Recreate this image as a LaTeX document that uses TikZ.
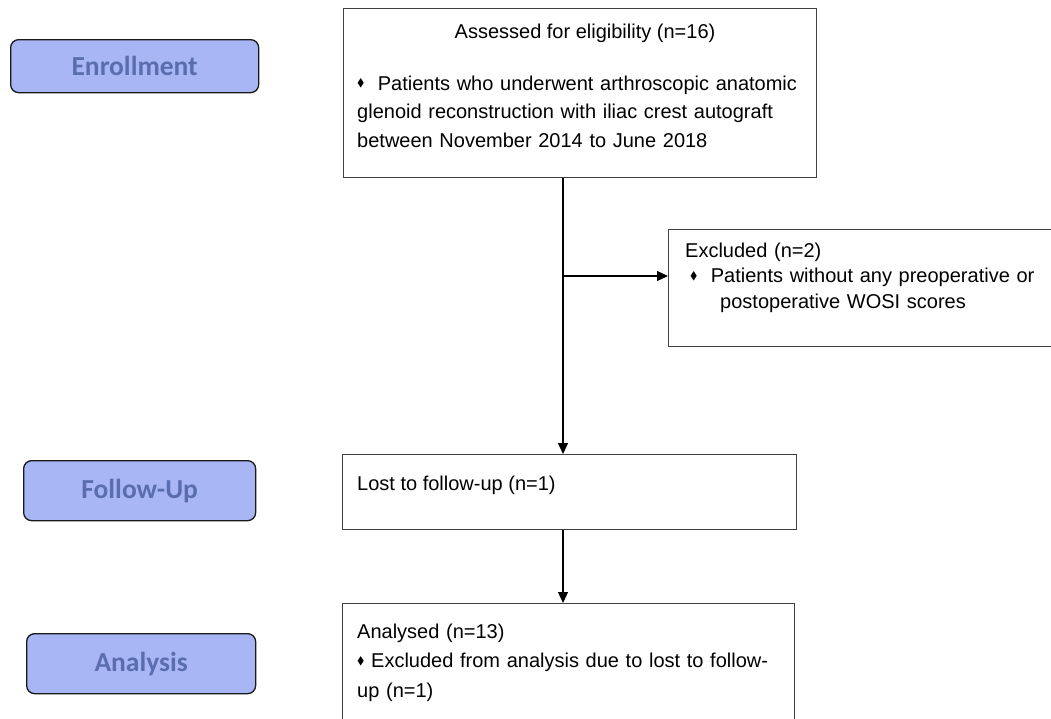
\documentclass[tikz,border=0pt]{standalone}
\usepackage{amssymb}
\usepackage{fontspec}
\setmainfont{Liberation Sans}
\newfontfamily\carlito{Carlito}
\usepackage{tikz}
\usetikzlibrary{arrows.meta,positioning}

\definecolor{stagefill}{HTML}{A8B6F5}
\definecolor{stagetext}{HTML}{5A6EAF}
\newcommand{\dbullet}{\raisebox{0.3ex}{\scalebox{0.55}{$\blacklozenge$}}}

\tikzset{
  stage/.style={draw=black!90, fill=stagefill, line width=1.3pt, rounded corners=8pt,
    text=stagetext, font=\carlito\bfseries\fontsize{27.5}{30}\selectfont, inner sep=0pt},
  flowbox/.style={draw=black!75, line width=1.2pt, anchor=north west, inner sep=0pt},
  boxtext/.style={anchor=base west, align=left, inner sep=0pt, font=\fontsize{20}{28.5}\selectfont},
  flow/.style={line width=1.2pt, -{Triangle[length=11pt,width=10pt]}}
}

\begin{document}
\begin{tikzpicture}[x=1pt, y=-1pt]
  \useasboundingbox (0,0) rectangle (1051,718);
  \clip (0,0) rectangle (1051,718);

  % stages on the left
  \node[stage, minimum width=248pt, minimum height=53pt, anchor=north west] (enroll) at (10,39) {Enrollment};
  \node[stage, minimum width=232pt, minimum height=60pt, anchor=north west] (followup) at (23,460) {Follow-Up};
  \node[stage, minimum width=229pt, minimum height=60pt, anchor=north west] (analysis) at (26,633) {Analysis};

  % boxes
  \node[flowbox, minimum width=473pt, minimum height=169pt] (assess) at (343,8) {};
  \node[flowbox, minimum width=392pt, minimum height=117pt] (excluded) at (668,229) {};
  \node[flowbox, minimum width=454pt, minimum height=75pt] (lost) at (342,454) {};
  \node[flowbox, minimum width=452pt, minimum height=130pt] (analysed) at (342,603) {};

  % texts
  \node[boxtext, anchor=base] (assesshead) at (585,38) {Assessed for eligibility (n=16)};
  \node[boxtext, text width=455pt] (assesslist) at (357,90)
    {\dbullet\ \ Patients who underwent arthroscopic anatomic\\
     glenoid reconstruction with iliac crest autograft\\
     between November 2014 to June 2018};
  \node[boxtext, text width=370pt, font=\fontsize{20}{25.5}\selectfont] (excludedtext) at (685,257)
    {Excluded (n=2)\\
     \hspace*{5pt}\dbullet\ \ Patients without any preoperative or\\
     \hspace*{35pt}postoperative WOSI scores};
  \node[boxtext] (losttext) at (357,490) {Lost to follow-up (n=1)};
  \node[boxtext, text width=440pt, font=\fontsize{20}{29.5}\selectfont] (analysedtext) at (357,638)
    {Analysed (n=13)\\
     \dbullet\ Excluded from analysis due to lost to follow-\\
     up (n=1)};

  % connectors
  \coordinate (split) at (563,276);
  \draw[flow] (assess.south -| split) -- (lost.north -| split);
  \draw[flow] (split) -- (excluded.west |- split);
  \draw[flow] (lost.south -| split) -- (analysed.north -| split);
\end{tikzpicture}
\end{document}
